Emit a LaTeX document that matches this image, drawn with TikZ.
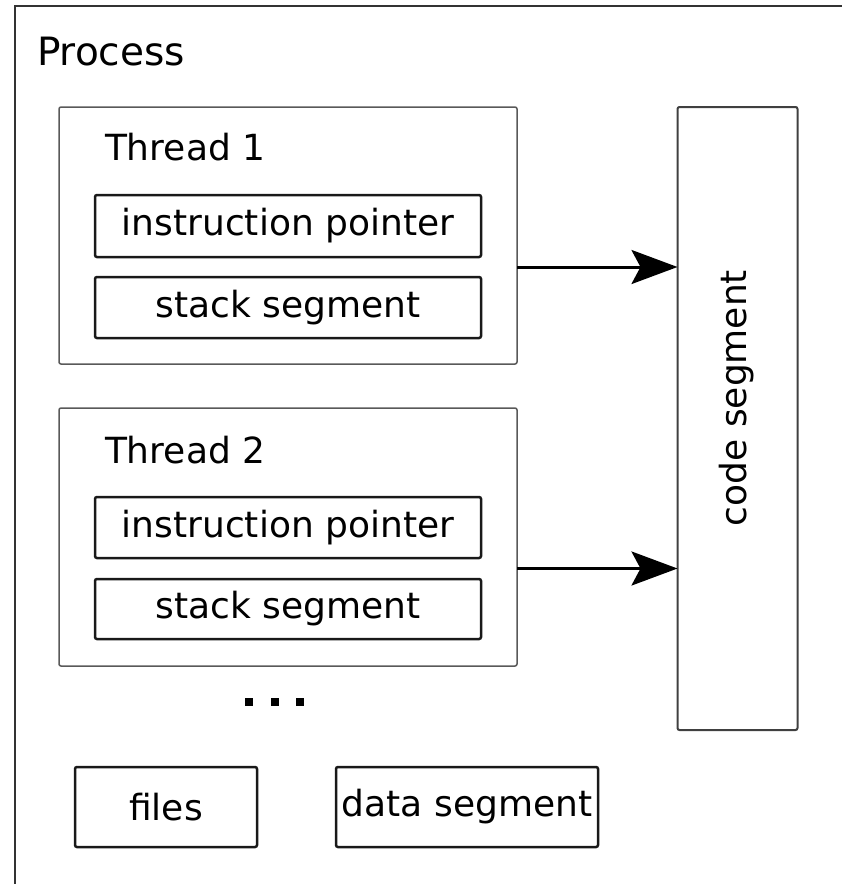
\documentclass[tikz,border=0pt]{standalone}
\usepackage{fontspec}
\setmainfont{DejaVu Sans}
\usetikzlibrary{arrows.meta,calc}
\begin{document}
\begin{tikzpicture}[x=1pt,y=-1pt,
  every node/.style={inner sep=0pt,outer sep=0pt},
  bigtxt/.style={font=\fontsize{36}{43}\selectfont},
  threadbox/.style={draw=black!65,line width=1.5pt,rounded corners=2pt},
  fieldbox/.style={draw=black!90,line width=2.5pt,rounded corners=2pt,bigtxt},
  segbox/.style={draw=black!75,line width=2pt,rounded corners=2pt},
  arr/.style={line width=3pt,-{Stealth[length=46pt,width=34pt,inset=9pt]}}
]
\useasboundingbox (0,0) rectangle (842,884);
% process frame (cut by the page on right and bottom)
\draw[line width=2pt,black!80] (842,6) -- (15,6) -- (15,884);
\node[anchor=base west,font=\fontsize{39}{46}\selectfont] (proc) at (37,65) {Process};

% thread 1
\node[threadbox,minimum width=458pt,minimum height=257pt] (t1) at (288,235.5) {};
\node[bigtxt,anchor=base west] (t1l) at (105,160) {Thread 1};
\node[fieldbox,minimum width=386pt,minimum height=62pt] (ip1) at (288,226) {instruction pointer};
\node[fieldbox,minimum width=386pt,minimum height=61pt] (ss1) at (288,307.5) {stack segment};

% thread 2
\node[threadbox,minimum width=458pt,minimum height=258pt] (t2) at (288,537) {};
\node[bigtxt,anchor=base west] (t2l) at (105,463) {Thread 2};
\node[fieldbox,minimum width=386pt,minimum height=61pt] (ip2) at (288,527.5) {instruction pointer};
\node[fieldbox,minimum width=386pt,minimum height=60pt] (ss2) at (288,609) {stack segment};

% code segment
\node[segbox,minimum width=120pt,minimum height=623pt] (cs) at (737.5,418.5) {};
\node[bigtxt,rotate=90] (csl) at (737,398) {code segment};

% arrows
\coordinate (a1) at ($(ip1.south)!0.5!(ss1.north)$);
\coordinate (a2) at ($(ip2.south)!0.5!(ss2.north)$);
\draw[arr] (t1.east |- a1) -- (cs.west |- a1);
\draw[arr] (t2.east |- a2) -- (cs.west |- a2);

% ellipsis
\foreach \cx in {249,275,300}
  \fill (\cx-4,698) rectangle (\cx+4,706);

% files and data segment
\node[fieldbox,minimum width=182pt,minimum height=80pt] (files) at (166,807) {files};
\node[fieldbox,minimum width=262pt,minimum height=80pt] (data) at (467,807) {data segment};
\end{tikzpicture}
\end{document}
